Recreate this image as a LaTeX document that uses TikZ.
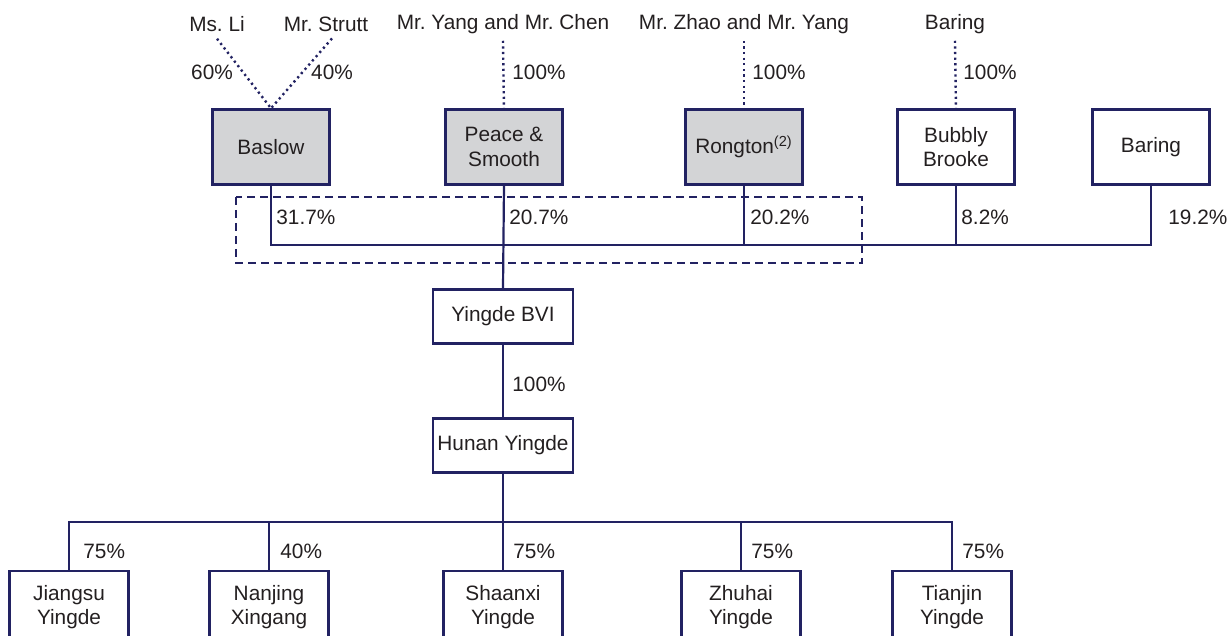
\documentclass[tikz,border=0pt]{standalone}
\usepackage{fontspec}
\setmainfont{Liberation Sans}
\usetikzlibrary{positioning}
\definecolor{navy}{RGB}{34,34,98}
\definecolor{boxgray}{RGB}{211,212,214}
\definecolor{ink}{RGB}{35,31,32}
\frenchspacing

\begin{document}
\begin{tikzpicture}[
		x=0.5pt, y=-0.5pt,
		font=\fontsize{10.4}{12.2}\selectfont, text=ink,
		block/.style={draw=navy, line width=1.2pt, minimum width=58.5pt, minimum height=37.5pt, align=center, inner sep=1pt},
		owner/.style={block, fill=boxgray},
		sub/.style={block, minimum width=59.5pt, minimum height=36pt},
		mid/.style={block, minimum width=70pt, minimum height=27pt},
		link/.style={draw=navy, line width=1.1pt},
		dotlink/.style={link, line width=1.2pt, dash pattern=on 1.1pt off 1.7pt},
		pct/.style={anchor=west, inner sep=0pt},
	]
		\useasboundingbox (0,0) rectangle (1227,636);

		% shareholders
		\node (li) at (217,24) {Ms. Li};
		\node (strutt) at (326,24) {Mr. Strutt};
		\node (yang) at (503,24) {Mr. Yang and Mr. Chen};
		\node (zhao) at (744,24) {Mr. Zhao and Mr. Yang};
		\node (baringtop) at (955,24) {Baring};

		\node[owner] (baslow) at (271,147) {Baslow};
		\node[owner] (peace) at (504,147) {Peace \&\\Smooth};
		\node[owner] (rongton) at (744,147) {Rongton\textsuperscript{(2)}};
		\node[block] (bubbly) at (956,147) {Bubbly\\Brooke};
		\node[block] (baring) at (1151,147) {Baring};

		\draw[dotlink] (li.south) -- (baslow.north);
		\draw[dotlink] ([xshift=3pt]strutt.south) -- (baslow.north);
		\draw[dotlink] (yang.south) -- (peace.north);
		\draw[dotlink] (zhao.south) -- (rongton.north);
		\draw[dotlink] (baringtop.south) -- (bubbly.north);

		\node (p60) at (212,72) {60\%};
		\node (p40) at (332,72) {40\%};
		\node[pct] (ppeace) at (512,72) {100\%};
		\node[pct] (prong) at (752,72) {100\%};
		\node[pct] (pbub) at (963,72) {100\%};

		% holding level
		\coordinate (bus) at (504,245);
		\draw[navy, line width=1.2pt, dash pattern=on 4pt off 2.5pt] (236,197) rectangle (862,263);
		\draw[link] (baslow.south) -- (baslow.south |- bus) -- (baring.south |- bus) -- (baring.south);
		\draw[link] (rongton.south) -- (rongton.south |- bus);
		\draw[link] (bubbly.south) -- (bubbly.south |- bus);

		\node[pct] at (276,217) {31.7\%};
		\node[pct] at (509,217) {20.7\%};
		\node[pct] at (750,217) {20.2\%};
		\node[pct] at (961,217) {8.2\%};
		\node[pct] at (1168,217) {19.2\%};

		\node[mid] (bvi) at (503,316.5) {Yingde BVI};
		\node[mid] (hunan) at (503,445.5) {Hunan Yingde};
		\draw[link] (peace.south) -- (bvi.north);
		\draw[link] (bvi) -- (hunan);
		\node[pct] at (512,384) {100\%};

		% subsidiaries
		\node[sub] (jiangsu) at (69,607) {Jiangsu\\Yingde};
		\node[sub] (nanjing) at (269,607) {Nanjing\\Xingang};
		\node[sub] (shaanxi) at (503,607) {Shaanxi\\Yingde};
		\node[sub] (zhuhai) at (741,607) {Zhuhai\\Yingde};
		\node[sub] (tianjin) at (952,607) {Tianjin\\Yingde};

		\coordinate (subbus) at (503,522);
		\draw[link] (hunan.south) -- (subbus);
		\draw[link] (jiangsu.north) -- (jiangsu.north |- subbus) -- (tianjin.north |- subbus) -- (tianjin.north);
		\draw[link] (nanjing.north) -- (nanjing.north |- subbus);
		\draw[link] (shaanxi.north) -- (subbus);
		\draw[link] (zhuhai.north) -- (zhuhai.north |- subbus);

		\node[pct] at (83,551) {75\%};
		\node[pct] at (280,551) {40\%};
		\node[pct] at (513,551) {75\%};
		\node[pct] at (751,551) {75\%};
		\node[pct] at (962,551) {75\%};
	\end{tikzpicture}
\end{document}
